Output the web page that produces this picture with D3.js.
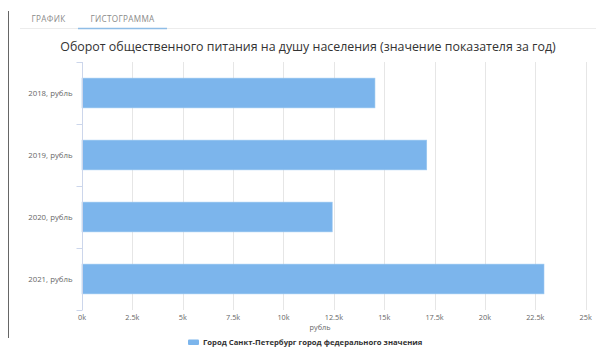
<!DOCTYPE html>
<html>
<head>
<meta charset="utf-8">
<script src="https://cdn.jsdelivr.net/npm/d3@7"></script>
<style>
 body { margin: 0; background: #fff; }
 svg { display: block; font-family: "Open Sans", "DejaVu Sans", sans-serif; }
</style>
</head>
<body>
<div id="chart"></div>
<script>
// chart data
var categories = ["2018, рубль", "2019, рубль", "2020, рубль", "2021, рубль"];
var values = [14540, 17110, 12420, 22930];
var xTicks = [0, 2500, 5000, 7500, 10000, 12500, 15000, 17500, 20000, 22500, 25000];
var tabs = ["ГРАФИК", "ГИСТОГРАММА"];
var seriesName = "Город Санкт-Петербург город федерального значения";
var title = "Оборот общественного питания на душу населения (значение показателя за год)";
var xTitle = "рубль";

var w = 596, h = 347;
var barCOLOR = "#7cb5ec", gridCOLOR = "#e6e6e6", axisCOLOR = "#ccd6eb", labelCOLOR = "#666666";

var svg = d3.select("#chart").append("svg").attr("width", w).attr("height", h);

// left border of the panel
svg.append("line").attr("x1", 8.5).attr("x2", 8.5).attr("y1", 11).attr("y2", 338)
 .attr("stroke", "#666").attr("stroke-width", 1);

// tabs
svg.append("line").attr("x1", 20).attr("x2", w).attr("y1", 28.5).attr("y2", 28.5)
 .attr("stroke", "#ececec").attr("stroke-width", 1);
var tabX = [48.5, 122.5];
tabs.forEach(function (t, i) {
 svg.append("text").attr("x", tabX[i]).attr("y", 21.5).attr("text-anchor", "middle")
     .attr("font-size", "8.2px").attr("fill", "#8a8a8a").attr("letter-spacing", "0.3px").text(t);
});
svg.append("line").attr("x1", 78).attr("x2", 167).attr("y1", 28.5).attr("y2", 28.5)
 .attr("stroke", "#8fbde6").attr("stroke-width", 1.6);

// title
svg.append("text").attr("x", 308).attr("y", 51).attr("text-anchor", "middle")
 .attr("font-size", "12.4px").attr("fill", "#333").text(title);

var x = d3.scaleLinear().domain([0, 25000]).range([82, 585.7]);
var y = d3.scaleBand().domain(categories).range([62, 310]).paddingInner(0.52).paddingOuter(0.26);

// vertical grid
svg.append("g").selectAll("line").data(xTicks).join("line")
 .attr("x1", function (d) { return Math.round(x(d)) + 0.5; })
 .attr("x2", function (d) { return Math.round(x(d)) + 0.5; })
 .attr("y1", 62).attr("y2", 310)
 .attr("stroke", gridCOLOR).attr("stroke-width", 1);

// bars
svg.append("g").selectAll("rect").data(values).join("rect")
 .attr("x", x(0))
 .attr("y", function (d, i) { return y(categories[i]); })
 .attr("width", function (d) { return x(d) - x(0); })
 .attr("height", y.bandwidth())
 .attr("fill", barCOLOR).attr("stroke", "#9cc8f0").attr("stroke-width", 0.6);

// category axis
var yAxis = svg.append("g").attr("transform", "translate(82.5,0)");
yAxis.append("line").attr("y1", 62).attr("y2", 310).attr("stroke", axisCOLOR);
var bounds = categories.map(function (c) { return y(c) - y.step() * y.paddingInner() / 2; });
bounds.push(310);
yAxis.selectAll("line.tick").data(bounds).join("line").attr("class", "tick")
 .attr("x1", -6).attr("x2", 0)
 .attr("y1", function (d) { return Math.round(d) + 0.5; })
 .attr("y2", function (d) { return Math.round(d) + 0.5; })
 .attr("stroke", axisCOLOR);
yAxis.selectAll("text").data(categories).join("text")
 .attr("x", -10).attr("y", function (d) { return y(d) + y.bandwidth() / 2 + 2.5; })
 .attr("text-anchor", "end").attr("font-size", "7.8px").attr("fill", labelCOLOR).text(function (d) { return d; });

// value axis labels
svg.append("g").selectAll("text").data(xTicks).join("text")
 .attr("x", function (d) { return x(d); }).attr("y", 320)
 .attr("text-anchor", "middle").attr("font-size", "7.3px").attr("fill", labelCOLOR)
 .text(function (d) { return (d / 1000) + "k"; });
svg.append("text").attr("x", 320).attr("y", 330).attr("text-anchor", "middle")
 .attr("font-size", "7.3px").attr("fill", labelCOLOR).text(xTitle);

// legend
svg.append("rect").attr("x", 188).attr("y", 339.5).attr("width", 11).attr("height", 5.5)
 .attr("rx", 1).attr("fill", barCOLOR);
svg.append("text").attr("x", 203).attr("y", 345).attr("font-size", "7.7px").attr("font-weight", "bold")
 .attr("fill", "#333").text(seriesName);
</script>
</body>
</html>
